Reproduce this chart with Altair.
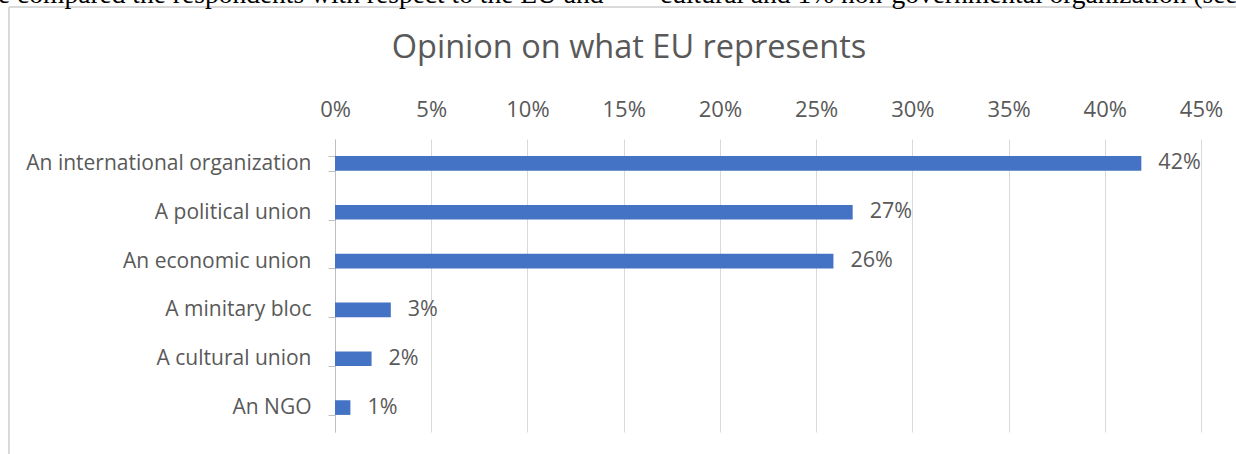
import altair as alt
import pandas as pd

categories = ["An international organization", "A political union", "An economic union",
              "A minitary bloc", "A cultural union ", "An NGO"]
values = [0.419, 0.269, 0.259, 0.029, 0.019, 0.008]
tick_values = [0, 0.05, 0.10, 0.15, 0.20, 0.25, 0.30, 0.35, 0.40, 0.45]
title_text = ["Opinion on what EU represents"]
doc_texts = ["e compared the respondents with respect to the EU and",
             "cultural and 1% non-governmental organization (see d"]

df = pd.DataFrame({"category": categories, "value": values})

FONT = "Open Sans"
GREY = "#595959"

x = alt.X("value:Q",
          scale=alt.Scale(domain=[0, 0.45], nice=False),
          axis=alt.Axis(orient="top", values=tick_values, format=".0%", title=None,
                        ticks=False, domain=False, grid=True, gridColor="#d9d9d9",
                        gridWidth=1, labelPadding=18, labelFontSize=22, labelFlush=False,
                        labelColor=GREY, labelFont=FONT))
y = alt.Y("category:N", sort=categories,
          scale=alt.Scale(paddingInner=0.7, paddingOuter=0.35),
          axis=alt.Axis(title=None, tickBand="extent", tickSize=7, tickColor="#bfbfbf",
                        domain=True, domainColor="#bfbfbf", labelPadding=17, labelFontSize=21,
                        labelLimit=0, labelColor=GREY, labelFont=FONT, grid=False))

bars = alt.Chart(df).mark_bar(color="#4472C4").encode(x=x, y=y)
labels = alt.Chart(df).mark_text(align="left", baseline="middle", dx=17, fontSize=21.5,
                                 font=FONT, color=GREY).encode(
    x=alt.X("value:Q"), y=alt.Y("category:N", sort=categories),
    text=alt.Text("value:Q", format=".0%"))

title = alt.Chart(pd.DataFrame({"t": title_text})).mark_text(
    align="center", baseline="alphabetic", fontSize=32.5, font=FONT, color=GREY
).encode(x=alt.value(294), y=alt.value(-81), text="t:N")

frame_v = alt.Chart(df).mark_rule(color="#d9d9d9", strokeWidth=1.5).encode(
    x=alt.value(-326), y=alt.value(-132), y2=alt.value(330))
frame_h = alt.Chart(df).mark_rule(color="#d9d9d9", strokeWidth=1.5).encode(
    x=alt.value(-326), x2=alt.value(920), y=alt.value(-132))

doc = alt.Chart(pd.DataFrame({"t": doc_texts, "px": [-337, 325]})).mark_text(
    align="left", baseline="alphabetic", font="Liberation Serif", fontSize=27.5, color="black"
).encode(x=alt.X("px:Q", scale=None), y=alt.value(-136.5), text="t:N")

chart = alt.layer(bars, labels, title, frame_v, frame_h, doc).properties(
    width=866, height=293,
    padding={"left": 335, "top": 139, "right": 35, "bottom": 22},
    autosize=alt.AutoSizeParams(type="none"),
    background="white",
).configure_view(strokeWidth=0, stroke="transparent")

chart.save("out.html", embed_options={"renderer": "svg", "actions": False})
